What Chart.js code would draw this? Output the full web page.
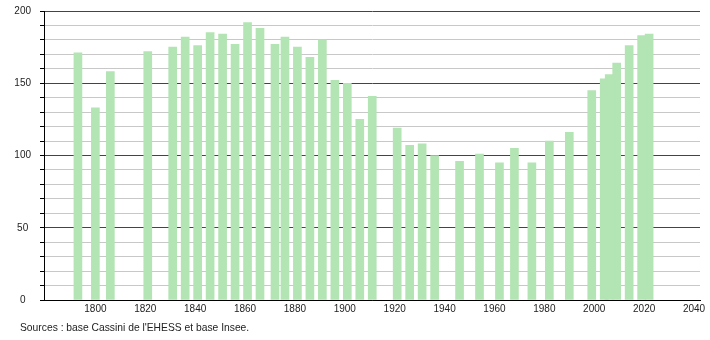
<!DOCTYPE html>
<html>
<head>
<meta charset="utf-8">
<script src="https://cdn.jsdelivr.net/npm/chart.js@4/dist/chart.umd.min.js"></script>
<style>
  html, body { margin: 0; padding: 0; background: #fff; }
  #wrap { position: relative; width: 710px; height: 340px; }
  #src { position: absolute; left: 20px; top: 322px; font: 10.3px "Liberation Sans", Arial, sans-serif; color: #222; white-space: nowrap; }
</style>
</head>
<body>
<div id="wrap">
  <canvas id="c" width="710" height="340"></canvas>
  <div id="src">Sources : base Cassini de l'EHESS et base Insee.</div>
</div>
<script>
const years = [1793, 1800, 1806, 1821, 1831, 1836, 1841, 1846, 1851, 1856,
  1861, 1866, 1872, 1876, 1881, 1886, 1891, 1896, 1901, 1906, 1911,
  1921, 1926, 1931, 1936, 1946, 1954, 1962, 1968, 1975, 1982, 1990,
  1999, 2004, 2006, 2009, 2014, 2019, 2022];
const population = [171, 133, 158, 172, 175, 182, 176, 185, 184, 177,
  192, 188, 177, 182, 175, 168, 180, 152, 150, 125, 141,
  119, 107, 108, 100, 96, 101, 95, 105, 95, 110, 116,
  145, 153, 156, 164, 176, 183, 184];
const xTickLabels = [1800, 1820, 1840, 1860, 1880, 1900, 1920, 1940, 1960, 1980, 2000, 2020, 2040];
const yTickLabels = [0, 50, 100, 150, 200];

const font = { family: "'Liberation Sans', Arial, sans-serif", size: 10 };

new Chart(document.getElementById('c'), {
  type: 'bar',
  data: {
    datasets: [{
      data: years.map((y, i) => ({ x: y, y: population[i] })),
      backgroundColor: '#b3e4b3',
      borderWidth: 0,
      barThickness: 8
    }]
  },
  options: {
    responsive: false,
    animation: false,
    layout: { padding: { top: 11, right: 10, bottom: 20, left: 0 } },
    plugins: { legend: { display: false }, tooltip: { enabled: false }, title: { display: false } },
    scales: {
      x: {
        type: 'linear',
        min: 1779.4,
        max: 2042.4,
        offset: false,
        grid: { display: false, drawTicks: false },
        border: { display: true, color: '#000', width: 1 },
        afterBuildTicks: s => { s.ticks = xTickLabels.map(v => ({ value: v })); },
        afterFit: s => { s.height = 20; s.paddingLeft = 0; s.paddingRight = 0; },
        ticks: { color: '#222', font: font, padding: 3, maxRotation: 0, autoSkip: false, callback: v => String(v) }
      },
      y: {
        min: 0,
        max: 200,
        afterBuildTicks: s => {
          const t = [];
          for (let v = 0; v <= 200; v += 10) t.push({ value: v });
          s.ticks = t;
        },
        afterFit: s => { s.width = 44; s.paddingTop = 0; s.paddingBottom = 0; },
        grid: {
          color: c => (c.tick && c.tick.value % 50 === 0) ? '#444' : '#c8c8c8',
          tickColor: '#000',
          tickLength: 4,
          lineWidth: 1
        },
        border: { display: true, color: '#000', width: 1 },
        ticks: {
          color: '#222', font: font, padding: 9, crossAlign: 'center', autoSkip: false,
          callback: v => yTickLabels.includes(v) ? String(v) : ''
        }
      }
    }
  }
});
</script>
</body>
</html>
